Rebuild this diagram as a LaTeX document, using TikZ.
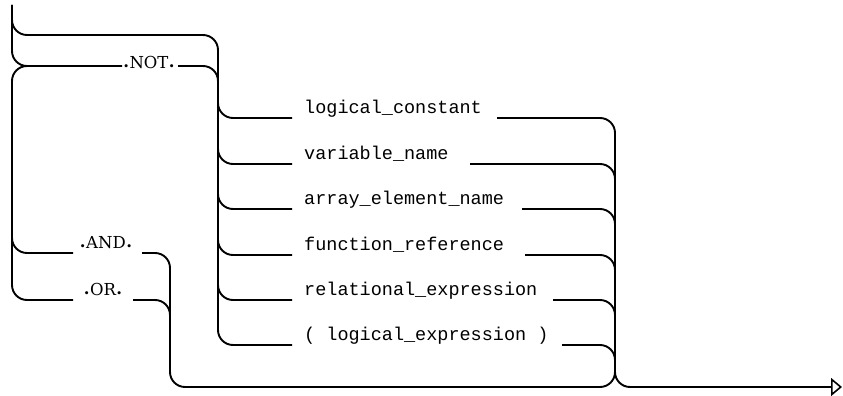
\documentclass[tikz,border=0pt]{standalone}
\usepackage{fontspec}
\setmonofont{Liberation Mono}
\newfontfamily\kwfont{DejaVu Serif}
\usetikzlibrary{arrows.meta}
\newcommand{\kdot}{\raisebox{1pt}{\bfseries .}}
\newcommand{\kwtext}[1]{{\kwfont\fontsize{16.5}{18}\selectfont\kdot\kern0.5pt #1\kern0.5pt\kdot}}
\begin{document}
\begin{tikzpicture}[x=1pt,y=-1pt,
  wire/.style={line width=1.9pt, rounded corners=15pt},
  opt/.style={font=\ttfamily\fontsize{18.5}{20}\selectfont, anchor=base west, inner sep=0pt},
  kw/.style={anchor=base, inner sep=0pt},
  endtip/.style={-{Triangle[open, length=11pt, width=18pt, line width=1.6pt]}}]
\useasboundingbox (0,0) rectangle (843,396);
% keyword labels
\node[kw] (not) at (149,68) {\kwtext{NOT}};
\node[kw] (and) at (106,248) {\kwtext{AND}};
\node[kw] (or)  at (103,295) {\kwtext{OR}};
% option labels
\node[opt] (o1) at (304,113) {logical\_constant};
\node[opt] (o2) at (304,159) {variable\_name};
\node[opt] (o3) at (304,204) {array\_element\_name};
\node[opt] (o4) at (304,250) {function\_reference};
\node[opt] (o5) at (304,295) {relational\_expression};
\node[opt] (o6) at (304,340) {( logical\_expression )};
% junction coordinates
\coordinate (in) at (12,5);
\coordinate (out) at (842,387);
\coordinate (notL) at (122,66);  \coordinate (notR) at (178,66);
\coordinate (andL) at (73,253);  \coordinate (andR) at (142,253);
\coordinate (orL) at (73,300);   \coordinate (orR) at (133,300);
\coordinate (l1) at (292,118); \coordinate (r1) at (497,118);
\coordinate (l2) at (292,164); \coordinate (r2) at (470,164);
\coordinate (l3) at (292,209); \coordinate (r3) at (522,209);
\coordinate (l4) at (292,255); \coordinate (r4) at (525,255);
\coordinate (l5) at (292,300); \coordinate (r5) at (553,300);
\coordinate (l6) at (292,345); \coordinate (r6) at (562,345);
% left part
\draw[wire] (in) -- (12,35) -- (218,35) -- (218,345) -- (l6);
\draw[wire] (in) -- (12,66) -- (notL);
\draw[wire] (orL) -- (12,300) -- (12,66) -- (40,66);
\draw[wire] (andL) -- (12,253) -- (12,225);
\draw[wire] (notR) -- (218,66) -- (218,100);
\foreach \i/\y in {1/118,2/164,3/209,4/255,5/300}
  \draw[wire] (218,\y-25) |- (l\i);
% right part
\draw[wire,endtip] (r1) -- (615,118) -- (615,387) -- (out);
\foreach \i/\y in {2/164,3/209,4/255,5/300,6/345}
  \draw[wire] (r\i) -- (615,\y) -- (615,\y+25);
% loop back
\draw[wire] (615,360) |- (170,387) -- (170,253) -- (andR);
\draw[wire] (orR) -- (170,300) -- (170,330);
\end{tikzpicture}
\end{document}
